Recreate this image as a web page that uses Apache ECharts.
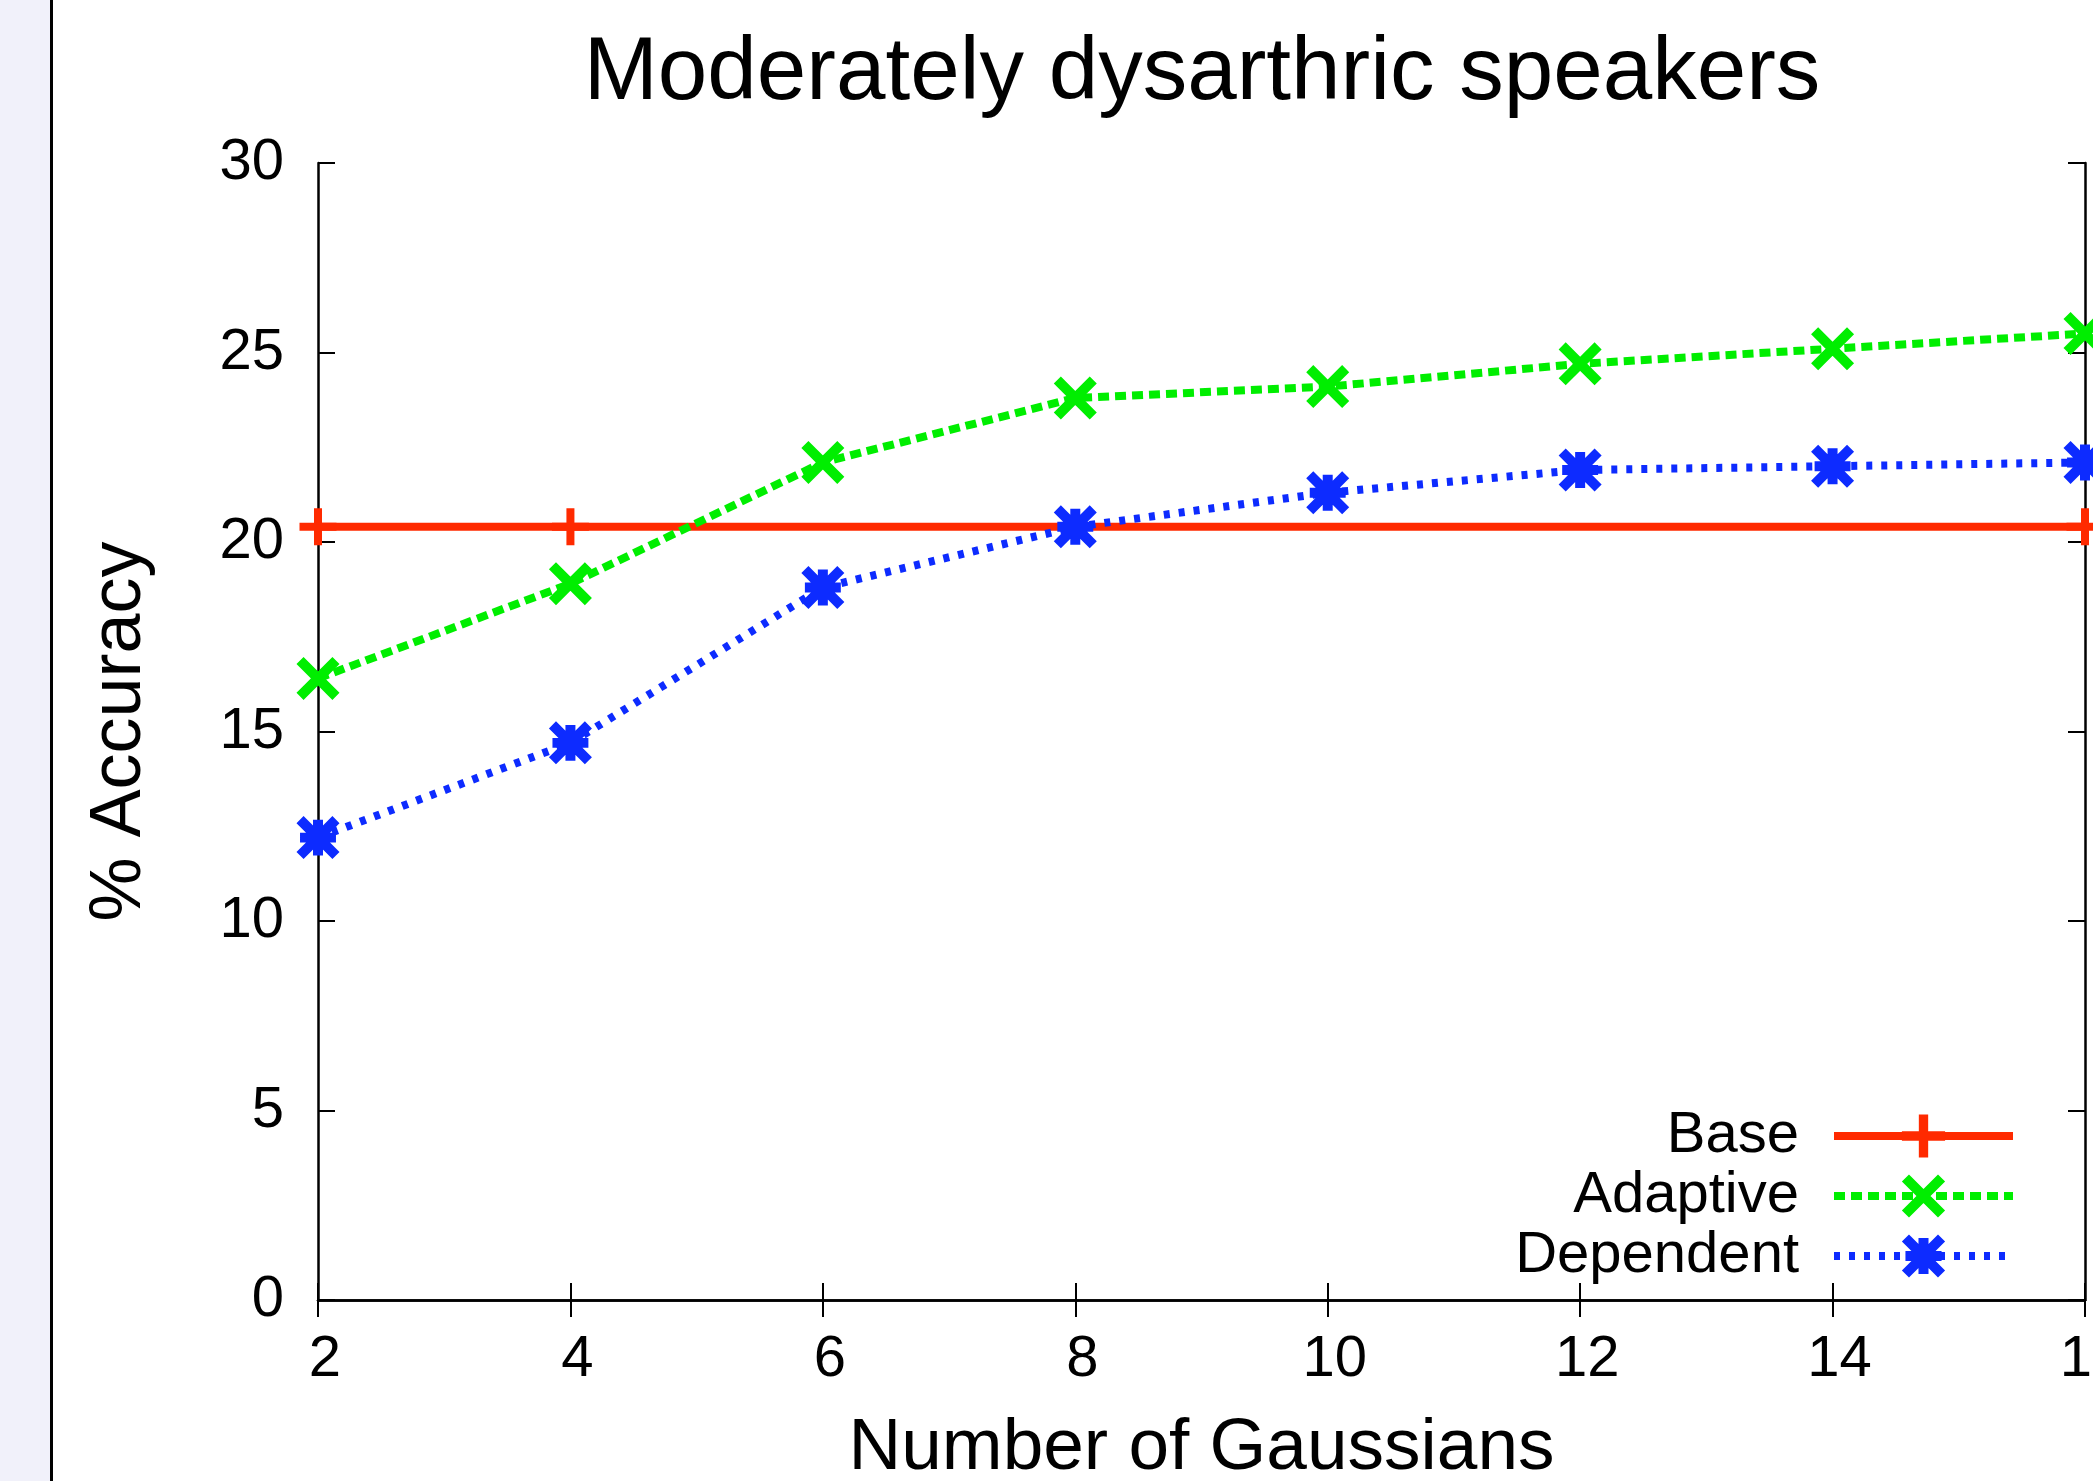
<!DOCTYPE html>
<html>
<head>
<meta charset="utf-8">
<title>Moderately dysarthric speakers</title>
<script src="https://cdn.jsdelivr.net/npm/echarts@6/dist/echarts.min.js"></script>
<style>
  html, body { margin: 0; padding: 0; background: #fff; }
  #grafica { width: 2093px; height: 1481px; }
</style>
</head>
<body>
<div id="grafica"></div>
<script>
// datos
var gaussianas = [2, 4, 6, 8, 10, 12, 14, 16];
var adaptive = [16.4, 18.9, 22.1, 23.8, 24.1, 24.7, 25.1, 25.5];
var dependent = [12.2, 14.7, 18.8, 20.4, 21.3, 21.9, 22.0, 22.1];
var baseX = [2, 4, 16];
var baseY = [20.4, 20.4, 20.4];
var xTicks = [2, 16, 2];   // min, max, interval
var yTicks = [0, 30, 5];

var colores = { base: "#ff2a00", adaptive: "#00ee00", dependent: "#0d2bff" };
var fuente = "'Liberation Sans', Arial, Helvetica, sans-serif";

// simbolos estilo gnuplot (+, x, *)
var simboloMas = "path://M14.5,0H22.5V14.5H37V22.5H22.5V37H14.5V22.5H0V14.5H14.5Z";
var simboloX = "path://M7.08,0L43.08,36L36,43.08L0,7.08Z M36,0L43.08,7.08L7.08,43.08L0,36Z";
var simboloAst = simboloX + " M16.54,3.54H26.54V39.54H16.54Z M3.54,16.54H39.54V26.54H3.54Z";

document.addEventListener("DOMContentLoaded", function () {
  cargarGrafica();
});

function pares(xs, ys) {
  return xs.map(function (x, i) { return [x, ys[i]]; });
}

function ejeX(pos, conEtiquetas) {
  return {
    type: "value",
    position: pos,
    min: xTicks[0],
    max: xTicks[1],
    interval: xTicks[2],
    name: conEtiquetas ? "Number of Gaussians" : "",
    nameLocation: "middle",
    nameGap: 112,
    nameTextStyle: { fontSize: 73, color: "#000", fontFamily: fuente },
    axisLine: { show: true, lineStyle: { color: "#000", width: 2.5 } },
    axisTick: { show: true, inside: true, length: 17, lineStyle: { color: "#000", width: 2 } },
    axisLabel: {
      show: conEtiquetas, fontSize: 58, color: "#000", fontFamily: fuente,
      margin: 31, padding: [0, 0, 0, 14]
    },
    splitLine: { show: false }
  };
}

function ejeY(pos, conEtiquetas) {
  return {
    type: "value",
    position: pos,
    min: yTicks[0],
    max: yTicks[1],
    interval: yTicks[2],
    name: conEtiquetas ? "% Accuracy" : "",
    nameLocation: "middle",
    nameGap: 162,
    nameTextStyle: { fontSize: 72, color: "#000", fontFamily: fuente },
    axisLine: { show: true, lineStyle: { color: "#000", width: 2.5 } },
    axisTick: { show: true, inside: true, length: 17, lineStyle: { color: "#000", width: 2 } },
    axisLabel: { show: conEtiquetas, fontSize: 58, color: "#000", fontFamily: fuente, margin: 34 },
    splitLine: { show: false }
  };
}

function cargarGrafica() {
  var chart = echarts.init(document.getElementById("grafica"));
  var option = {
    backgroundColor: "#fff",
    animation: false,
    grid: { left: 318, right: 8, top: 163, bottom: 181, containLabel: false, outerBoundsMode: "none" },
    graphic: [
      { type: "rect", left: 0, top: 0, shape: { width: 50, height: 1481 }, style: { fill: "#f1f1fa" }, z: -1 },
      { type: "line", shape: { x1: 51.5, y1: 0, x2: 51.5, y2: 1481 }, style: { stroke: "#000", lineWidth: 3 } },
      {
        type: "text",
        x: 1202,
        y: 74,
        style: {
          text: "Moderately dysarthric speakers",
          font: "89px " + fuente,
          fill: "#000",
          textAlign: "center",
          textVerticalAlign: "middle"
        }
      }
    ],
    legend: {
      orient: "vertical",
      right: 71,
      top: 1102,
      align: "right",
      itemWidth: 179,
      itemHeight: 54,
      itemGap: 2,
      lineStyle: { width: 8 },
      textStyle: { fontSize: 58, color: "#000", fontFamily: fuente, padding: [0, 30, 0, 0] },
      data: ["Base", "Adaptive", "Dependent"]
    },
    xAxis: [ejeX("bottom", true), ejeX("top", false)],
    yAxis: [ejeY("left", true), ejeY("right", false)],
    series: [
      {
        name: "Base",
        type: "line",
        xAxisIndex: 0,
        yAxisIndex: 0,
        data: pares(baseX, baseY),
        symbol: simboloMas,
        symbolSize: 37,
        clip: false,
        lineStyle: { color: colores.base, width: 8, type: "solid" },
        itemStyle: { color: colores.base, borderWidth: 0 }
      },
      {
        name: "Adaptive",
        type: "line",
        xAxisIndex: 0,
        yAxisIndex: 0,
        data: pares(gaussianas, adaptive),
        symbol: simboloX,
        symbolSize: 43,
        clip: false,
        lineStyle: { color: colores.adaptive, width: 8, type: [11, 6] },
        itemStyle: { color: colores.adaptive, borderWidth: 0 }
      },
      {
        name: "Dependent",
        type: "line",
        xAxisIndex: 0,
        yAxisIndex: 0,
        data: pares(gaussianas, dependent),
        symbol: simboloAst,
        symbolSize: 43,
        clip: false,
        lineStyle: { color: colores.dependent, width: 8, type: [6, 9] },
        itemStyle: { color: colores.dependent, borderWidth: 0 }
      }
    ]
  };
  chart.setOption(option);
}
</script>
</body>
</html>
